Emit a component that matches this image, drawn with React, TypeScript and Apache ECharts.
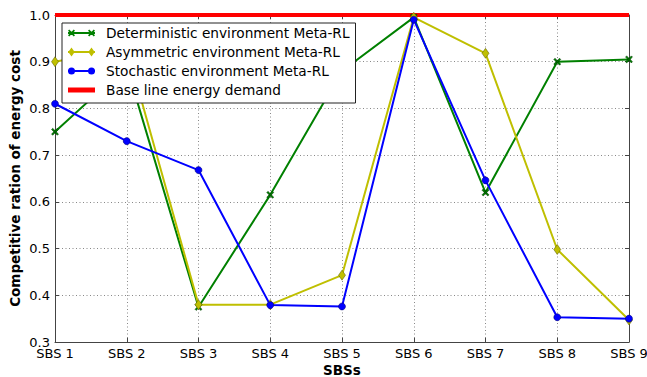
import React, { useEffect, useRef } from "react";
import * as echarts from "echarts";

// Categories and series values
const sbsLabels = ["SBS 1", "SBS 2", "SBS 3", "SBS 4", "SBS 5", "SBS 6", "SBS 7", "SBS 8", "SBS 9"];
const deterministic = [0.75, 0.89, 0.375, 0.615, 0.88, 0.995, 0.62, 0.9, 0.905];
const asymmetric = [0.9, 0.93, 0.38, 0.38, 0.443, 0.995, 0.918, 0.498, 0.347];
const stochastic = [0.81, 0.73, 0.668, 0.379, 0.376, 0.99, 0.646, 0.353, 0.35];
const baseline = [1, 1, 1, 1, 1, 1, 1, 1, 1];

const seriesNames = [
  "Deterministic environment Meta-RL",
  "Asymmetric environment Meta-RL",
  "Stochastic environment Meta-RL",
  "Base line energy demand",
];

const FONT = "DejaVu Sans";

// "x" shaped marker made from two crossed bars
const xMarker = (cx: number, cy: number, a: number, t: number) =>
  `M${cx - a},${cy - a + t} L${cx - a + t},${cy - a} L${cx + a},${cy + a - t} L${cx + a - t},${cy + a} Z ` +
  `M${cx + a - t},${cy - a} L${cx + a},${cy - a + t} L${cx - a + t},${cy + a} L${cx - a},${cy + a - t} Z`;
const diamond = (cx: number, cy: number, w: number, h: number) =>
  `M${cx},${cy - h} L${cx + w},${cy} L${cx},${cy + h} L${cx - w},${cy} Z`;
const circle = (cx: number, cy: number, r: number) =>
  `M${cx - r},${cy} A${r},${r} 0 1,1 ${cx + r},${cy} A${r},${r} 0 1,1 ${cx - r},${cy} Z`;

// legend icons: 27 x 14 box, line with a marker at each end
const IW = 27;
const IH = 14;
const anchors = `M0,0 M${IW},${IH} `;
const bar = (h: number) => `M0,${7 - h / 2} L${IW},${7 - h / 2} L${IW},${7 + h / 2} L0,${7 + h / 2} Z `;
const legendIcons = [
  "path://" + anchors + bar(2) + xMarker(3.5, 7, 3.5, 1.2) + " " + xMarker(23.5, 7, 3.5, 1.2),
  "path://" + anchors + bar(2) + diamond(3.5, 7, 3.2, 4.5) + " " + diamond(23.5, 7, 3.2, 4.5),
  "path://" + anchors + bar(2) + circle(3.5, 7, 3.5) + " " + circle(23.5, 7, 3.5),
  "path://" + anchors + bar(5),
];

const App: React.FC = () => {
  const ref = useRef<HTMLDivElement>(null);

  useEffect(() => {
    if (!ref.current) return;
    const chart = echarts.init(ref.current, undefined, { renderer: "svg" });

    const frame = { show: true, lineStyle: { color: "#444", width: 1 } };
    const ticksIn = { show: true, inside: true, length: 4, lineStyle: { color: "#444" } };
    const grid = { show: true, lineStyle: { color: "#888", width: 1, type: [1, 2.5] as any } };

    chart.setOption({
      animation: false,
      backgroundColor: "#fff",
      grid: { left: 55, right: 18, top: 15, bottom: 35, outerBoundsMode: "none", containLabel: false },
      legend: {
        orient: "vertical",
        left: 62,
        top: 23,
        padding: [3, 6, 6, 6],
        itemWidth: IW,
        itemHeight: IH,
        itemGap: 5,
        backgroundColor: "#fff",
        borderColor: "#222",
        borderWidth: 1,
        borderRadius: 0,
        itemStyle: { borderWidth: 0 },
        textStyle: { fontFamily: FONT, fontSize: 13.7, color: "#000", lineHeight: 14, padding: [0, 0, 0, 6] },
        data: seriesNames.map((name, i) => ({ name, icon: legendIcons[i] })),
      },
      xAxis: [
        {
          type: "category",
          data: sbsLabels,
          boundaryGap: false,
          name: "SBSs",
          nameLocation: "middle",
          nameGap: 21,
          nameMoveOverlap: false,
          nameTextStyle: { fontFamily: FONT, fontSize: 13.5, fontWeight: "bold", color: "#000" },
          axisLine: frame,
          axisTick: { ...ticksIn, interval: 0 },
          axisLabel: { fontFamily: FONT, fontSize: 13, color: "#000", margin: 5, interval: 0 },
          splitLine: { ...grid, interval: 0 },
        },
        {
          type: "category",
          data: sbsLabels,
          boundaryGap: false,
          position: "top",
          axisLine: frame,
          axisTick: { ...ticksIn, interval: 0 },
          axisLabel: { show: false },
          splitLine: { show: false },
        },
      ],
      yAxis: [
        {
          type: "value",
          min: 0.3,
          max: 1.0,
          interval: 0.1,
          name: "Competitive ration of energy cost",
          nameLocation: "middle",
          nameGap: 33,
          nameMoveOverlap: false,
          nameTextStyle: { fontFamily: FONT, fontSize: 13.5, fontWeight: "bold", color: "#000" },
          axisLine: frame,
          axisTick: ticksIn,
          axisLabel: {
            fontFamily: FONT,
            fontSize: 13,
            color: "#000",
            margin: 5,
            formatter: (v: number) => v.toFixed(1),
          },
          splitLine: grid,
        },
        {
          type: "value",
          min: 0.3,
          max: 1.0,
          interval: 0.1,
          position: "right",
          axisLine: frame,
          axisTick: ticksIn,
          axisLabel: { show: false },
          splitLine: { show: false },
        },
      ],
      series: [
        {
          name: seriesNames[0],
          type: "line",
          data: deterministic,
          color: "#008000",
          lineStyle: { width: 2 },
          symbol: "path://" + xMarker(0, 0, 3.5, 1.2),
          symbolSize: 7,
          showAllSymbol: true,
          itemStyle: { color: "#008000", borderColor: "#003000", borderWidth: 0.5 },
        },
        {
          name: seriesNames[1],
          type: "line",
          data: asymmetric,
          color: "#bfbf00",
          lineStyle: { width: 2 },
          symbol: "path://" + diamond(0, 0, 3.2, 4.5),
          symbolSize: [7, 10],
          showAllSymbol: true,
          itemStyle: { color: "#bfbf00", borderColor: "#555500", borderWidth: 0.5 },
        },
        {
          name: seriesNames[2],
          type: "line",
          data: stochastic,
          color: "#0000ff",
          lineStyle: { width: 2 },
          symbol: "circle",
          symbolSize: 7,
          showAllSymbol: true,
          itemStyle: { color: "#0000ff", borderColor: "#000066", borderWidth: 0.5 },
        },
        {
          name: seriesNames[3],
          type: "line",
          data: baseline,
          color: "#ff0000",
          lineStyle: { width: 4 },
          symbol: "none",
        },
      ],
    });

    return () => chart.dispose();
  }, []);

  return (
    <div
      ref={ref}
      style={{ position: "fixed", left: 0, top: 0, width: 647, height: 377, background: "#fff" }}
    />
  );
};

export default App;
